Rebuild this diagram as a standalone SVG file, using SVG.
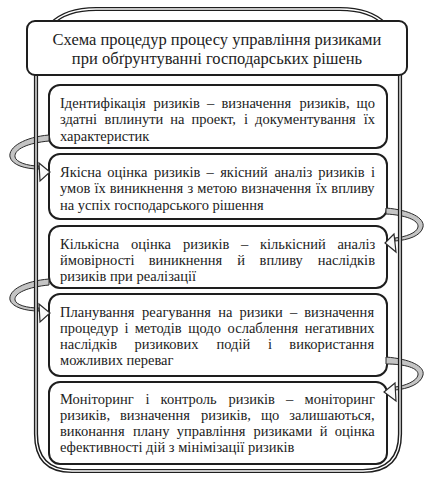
<svg xmlns="http://www.w3.org/2000/svg" width="443" height="479" viewBox="0 0 443 479">
<style>
.bx{fill:#fff;stroke:#1e1e1e;stroke-width:2}
.t{font-family:"Liberation Serif","Times New Roman",serif;font-size:14.5px;fill:#222}
.tt{font-family:"Liberation Serif","Times New Roman",serif;font-size:16.5px;fill:#222;text-anchor:middle}
.band{fill:#c4c4c4;stroke:#2a2a2a;stroke-width:1;stroke-linejoin:round}
.head{fill:#fafafa;stroke:#2a2a2a;stroke-width:1.2;stroke-linejoin:miter}
</style>
<rect width="443" height="479" fill="#fff"/>

<g id="box1">
<rect class="bx" x="49" y="85" width="338" height="63" rx="11"/>
<text class="t" y="108"><tspan x="60">Ідентифікація</tspan><tspan x="153.5">ризиків</tspan><tspan x="207">–</tspan><tspan x="221.4">визначення</tspan><tspan x="299.5">ризиків,</tspan><tspan x="356.6">що</tspan></text>
<text class="t" y="124.3"><tspan x="60">здатні</tspan><tspan x="104.6">вплинути</tspan><tspan x="170.3">на</tspan><tspan x="191.4">проект,</tspan><tspan x="244">і</tspan><tspan x="255">документування</tspan><tspan x="363.7">їх</tspan></text>
<text class="t" x="60" y="140.6">характеристик</text>
</g>

<g id="box2">
<rect class="bx" x="49" y="154" width="338" height="65" rx="11"/>
<text class="t" y="177"><tspan x="60">Якісна</tspan><tspan x="107.3">оцінка</tspan><tspan x="153.9">ризиків</tspan><tspan x="206.6">–</tspan><tspan x="220.2">якісний</tspan><tspan x="274.4">аналіз</tspan><tspan x="318.3">ризиків</tspan><tspan x="371">і</tspan></text>
<text class="t" y="193.3"><tspan x="60">умов</tspan><tspan x="94.5">їх</tspan><tspan x="109.7">виникнення</tspan><tspan x="187.6">з</tspan><tspan x="197.3">метою</tspan><tspan x="241.3">визначення</tspan><tspan x="316.1">їх</tspan><tspan x="331.3">впливу</tspan></text>
<text class="t" x="60" y="209.6">на успіх господарського рішення</text>
</g>

<g id="box3">
<rect class="bx" x="49" y="226" width="338" height="62" rx="11"/>
<text class="t" y="248.5"><tspan x="60">Кількісна</tspan><tspan x="131">оцінка</tspan><tspan x="183">ризиків</tspan><tspan x="241">–</tspan><tspan x="260">кількісний</tspan><tspan x="337.4">аналіз</tspan></text>
<text class="t" y="264.8"><tspan x="60">ймовірності</tspan><tspan x="148.7">виникнення</tspan><tspan x="237.2">й</tspan><tspan x="259.6">впливу</tspan><tspan x="317.8">наслідків</tspan></text>
<text class="t" x="60" y="281.1">ризиків при реалізації</text>
</g>

<g id="box4">
<rect class="bx" x="49" y="294" width="338" height="82" rx="11"/>
<text class="t" y="316.5"><tspan x="60">Планування</tspan><tspan x="142.1">реагування</tspan><tspan x="218.3">на</tspan><tspan x="239.5">ризики</tspan><tspan x="289.9">–</tspan><tspan x="304.2">визначення</tspan></text>
<text class="t" y="332.8"><tspan x="60">процедур</tspan><tspan x="124.5">і</tspan><tspan x="134.7">методів</tspan><tspan x="188.3">щодо</tspan><tspan x="227.6">ослаблення</tspan><tspan x="304.7">негативних</tspan></text>
<text class="t" y="349.1"><tspan x="60">наслідків</tspan><tspan x="134.5">ризикових</tspan><tspan x="216.5">подій</tspan><tspan x="268">і</tspan><tspan x="289.3">використання</tspan></text>
<text class="t" x="60" y="365.4">можливих переваг</text>
</g>

<g id="box5">
<rect class="bx" x="49" y="382" width="338" height="82" rx="11"/>
<text class="t" y="403.5"><tspan x="60">Моніторинг</tspan><tspan x="145.4">і</tspan><tspan x="160.6">контроль</tspan><tspan x="228.5">ризиків</tspan><tspan x="286.1">–</tspan><tspan x="304.5">моніторинг</tspan></text>
<text class="t" y="419.8"><tspan x="60">ризиків,</tspan><tspan x="120">визначення</tspan><tspan x="200.9">ризиків,</tspan><tspan x="260.9">що</tspan><tspan x="289.3">залишаються,</tspan></text>
<text class="t" y="436.1"><tspan x="60">виконання</tspan><tspan x="133">плану</tspan><tspan x="176.7">управління</tspan><tspan x="253.5">ризиками</tspan><tspan x="319.7">й</tspan><tspan x="334.7">оцінка</tspan></text>
<text class="t" x="60" y="452.4">ефективності дій з мінімізації ризиків</text>
</g>

<g id="connectors">
<path class="band" d="M49,135 C25,137 8,147 10,157 C12,165 25,169 39,169 L39,166 C27,166 16,162 15,157 C14,149 28,143 49,141 Z"/>
<polygon class="head" points="39,163 50,172 40,181"/>
<path class="band" d="M386,208 C410,210 425,218 423,227 C421,236 408,240 395,241 L395,238 C405,237 417,233 418,227 C419,220 405,215 386,214 Z"/>
<polygon class="head" points="394,234 385,243 396,252"/>
<path class="band" d="M49,279 C25,281 8,290 10,300 C12,307 25,311 39,311 L39,308 C27,308 16,305 15,300 C14,293 28,287 49,285 Z"/>
<polygon class="head" points="39,304 50,313 40,322"/>
<path class="band" d="M386,357 C410,359 425,366 423,375 C421,384 408,389 395,390 L395,387 C405,386 417,381 418,375 C419,368 405,364 386,364 Z"/>
<polygon class="head" points="395,383 384,392 396,401"/>
</g>

<g id="frame">
<path d="M36,70 L36,434 Q36,471 72,471 L363,471 Q400,471 400,434 L400,70 Q400,9 340,9 L96,9 Q36,9 36,70 Z" fill="none" stroke="#1e1e1e" stroke-width="4.2"/>
<path d="M36,70 L36,434 Q36,471 72,471 L363,471 Q400,471 400,434 L400,70 Q400,9 340,9 L96,9 Q36,9 36,70 Z" fill="none" stroke="#fff" stroke-width="1.3"/>
</g>

<g id="title">
<rect class="bx" x="27" y="21" width="380" height="54" rx="8"/>
<text class="tt" x="217" y="44.5">Схема процедур процесу управління ризиками</text>
<text class="tt" x="217" y="63.5">при обґрунтуванні господарських рішень</text>
</g>
</svg>
